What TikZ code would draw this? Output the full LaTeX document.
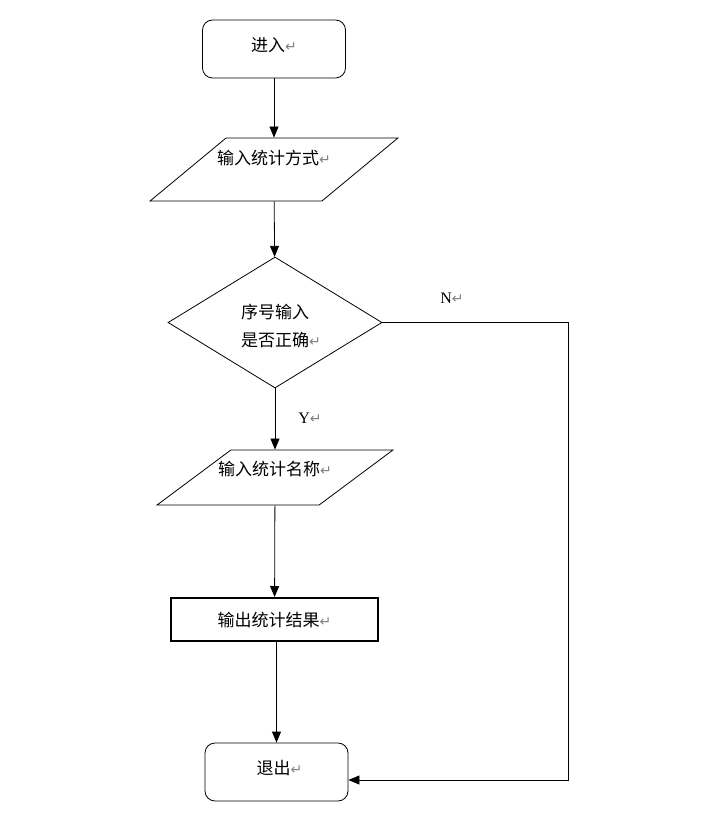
\documentclass[tikz,border=0pt]{standalone}
\usepackage{fontspec}
\setmainfont{Liberation Serif}
\newfontfamily\cjk{Noto Sans CJK SC}
\newfontfamily\dejavu{DejaVu Sans}
\usetikzlibrary{shapes.geometric,arrows.meta}
\newcommand{\pmark}{{\dejavu\color{gray}\fontsize{14}{14}\selectfont ↵}}
\tikzset{
  box/.style={draw,rounded corners=10pt,minimum width=143pt,minimum height=58pt},
  io/.style 2 args={draw,trapezium,trapezium stretches=true,trapezium left angle=#1,
    trapezium right angle=#2},
  txt/.style={font=\cjk\fontsize{17}{28}\selectfont},
}
\begin{document}
\begin{tikzpicture}[x=1pt,y=-1pt,line width=0.8pt,>={Triangle[length=11pt,width=9pt]}]
  \useasboundingbox (0,0) rectangle (705,829);
  % shapes
  \node[box,label={[txt,yshift=4pt]center:进入\pmark}] (start) at (274,49) {};
  \node[io={51.6}{128.4},minimum width=248pt,minimum height=63pt,
    label={[txt,yshift=11pt]center:输入统计方式\pmark}] (way) at (274,169.5) {};
  \node[draw,diamond,inner sep=0pt,minimum width=214pt,minimum height=131pt,
    label={[txt,align=left,xshift=6pt,yshift=-4pt]center:序号输入\\是否正确\pmark}] (chk) at (275,322.5) {};
  \node[io={50.1}{129.9},minimum width=236pt,minimum height=55pt,
    label={[txt,yshift=8pt]center:输入统计名称\pmark}] (name) at (275,477.5) {};
  \node[draw,line width=2pt,minimum width=207pt,minimum height=43pt,
    label={[txt]center:输出统计结果\pmark}] (out) at (274.5,619.5) {};
  \node[box,label={[txt,xshift=3pt,yshift=4pt]center:退出\pmark}] (exit) at (276.5,772) {};
  % labels
  \node[font=\fontsize{16}{16}\selectfont] (n) at (452,298) {N\pmark};
  \node[font=\fontsize{16}{16}\selectfont] (y) at (310,418) {Y\pmark};
  % arrows
  \draw[->] (start) edge (way);
  \draw[->] (way) edge (chk);
  \draw[->] (chk) edge (name);
  \draw[->] (name) edge (out);
  \draw[->] (out.south -| exit) -- (exit);
  \draw[->] (chk.east) -- (568,322.5) -- (568,780) -- (exit.east |- 0,780);
\end{tikzpicture}
\end{document}
